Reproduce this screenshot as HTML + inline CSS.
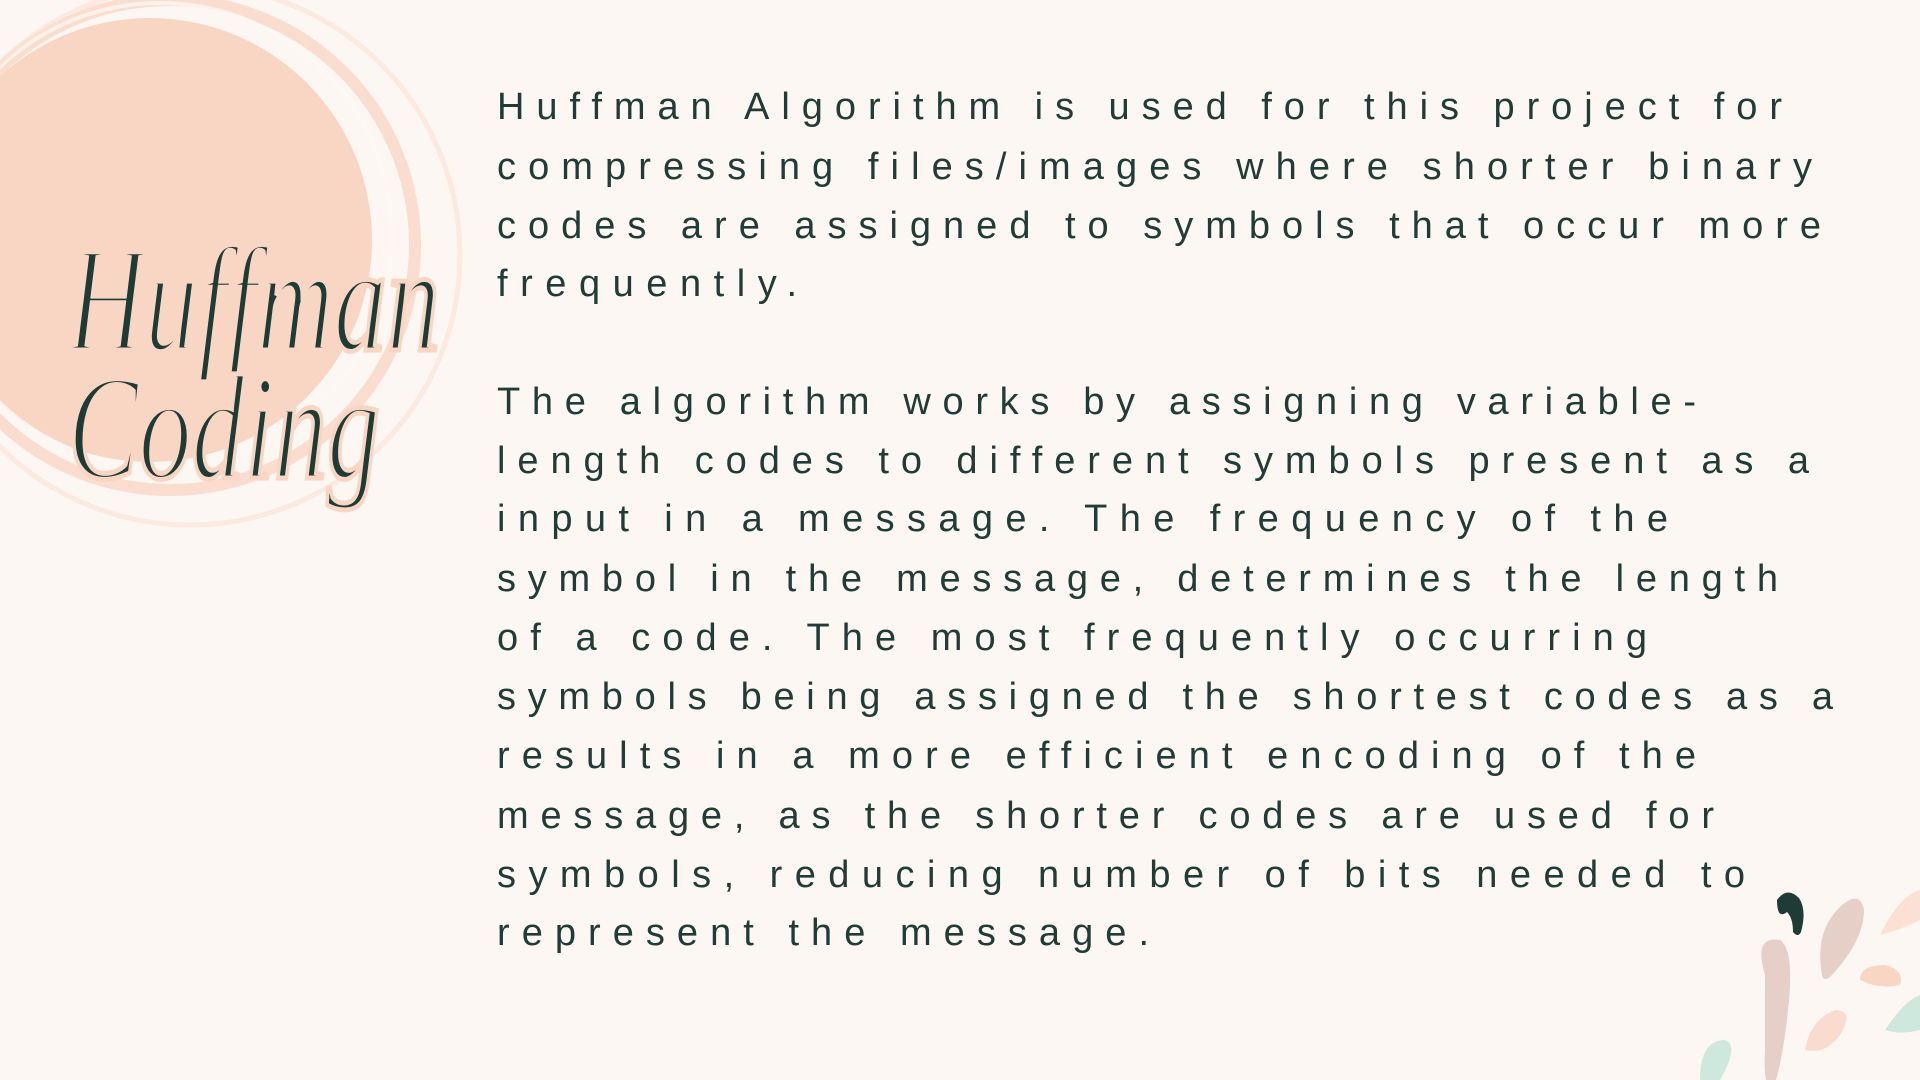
<!DOCTYPE html>
<html><head><meta charset="utf-8"><style>
html,body{margin:0;padding:0;background:#fdf7f3;}
svg{display:block}
</style></head><body>
<svg width="1920" height="1080" viewBox="0 0 1920 1080" xmlns="http://www.w3.org/2000/svg">
<rect width="1920" height="1080" fill="#fdf7f3"/>
<!-- peach brush circle -->
<circle cx="150" cy="240" r="222" fill="#f9d6c4"/>
<circle cx="170" cy="245" r="245" fill="none" stroke="#f9d6c4" stroke-width="12" opacity="0.8"/>
<circle cx="160" cy="235" r="232" fill="none" stroke="#fdf7f3" stroke-width="4" opacity="0.8"/>
<circle cx="190" cy="255" r="270" fill="none" stroke="#fbe3d6" stroke-width="5" opacity="0.7"/>
<!-- script title -->
<g fill="#1f3b36" font-family="Liberation Serif, serif" font-style="italic">
<text x="68" y="350" font-size="150" textLength="372" lengthAdjust="spacingAndGlyphs" stroke="#f9d6c4" stroke-width="5" paint-order="normal">Huffman</text>
<text x="68" y="478" font-size="150" textLength="312" lengthAdjust="spacingAndGlyphs" stroke="#f9d6c4" stroke-width="5" paint-order="normal">Coding</text>
</g>
<!-- body text -->
<g fill="#213c37" font-family="Liberation Sans, sans-serif" font-size="38" lengthAdjust="spacing">
<text x="497" y="119" textLength="1285">Huffman Algorithm is used for this project for</text>
<text x="497" y="179" textLength="1315">compressing files/images where shorter binary</text>
<text x="497" y="238" textLength="1324">codes are assigned to symbols that occur more</text>
<text x="497" y="296" textLength="300">frequently.</text>
<text x="497" y="414" textLength="1199">The algorithm works by assigning variable-</text>
<text x="497" y="473" textLength="1312">length codes to different symbols present as a</text>
<text x="497" y="531" textLength="1171">input  in a message. The frequency of the</text>
<text x="497" y="591" textLength="1281">symbol in the message, determines the length</text>
<text x="497" y="650" textLength="1150">of a code. The most frequently occurring</text>
<text x="497" y="709" textLength="1336">symbols being assigned the shortest codes as a</text>
<text x="497" y="768" textLength="1199">results in a more efficient encoding of the</text>
<text x="497" y="828" textLength="1217">message, as the shorter codes are used for</text>
<text x="497" y="887" textLength="1248">symbols, reducing  number of bits needed to</text>
<text x="497" y="945" textLength="652">represent the message.</text>
</g>
<!-- decorations -->
<path d="M1777 900 q10 -14 22 -2 q8 12 2 34 q-3 6 -8 0 q0 -14 -6 -20 q-10 8 -10 -12z" fill="#1f3b36"/>
<path d="M1822 975 q-8 -45 20 -70 q18 -15 22 5 q0 30 -32 65 q-8 8 -10 0z" fill="#e6cfc6"/>
<path d="M1765 975 q-12 -40 15 -35 q15 10 8 70 q-5 50 -15 80 q-10 0 -8 -40z" fill="#e6cfc6"/>
<path d="M1860 980 q0 -15 25 -15 q20 5 15 20 q-20 5 -40 -5z" fill="#f9d6c4"/>
<path d="M1880 935 q20 -40 40 -45 l0 30 q-20 10 -40 15z" fill="#fbe0d3"/>
<path d="M1805 1050 q5 -30 30 -40 q20 0 5 25 q-15 20 -35 15z" fill="#f9dccd"/>
<path d="M1885 1030 q20 -30 35 -35 l0 35 q-20 5 -35 0z" fill="#cfe8dd"/>
<path d="M1700 1080 q0 -40 25 -40 q15 5 -5 40z" fill="#cfe8dd"/>
</svg>
</body></html>
